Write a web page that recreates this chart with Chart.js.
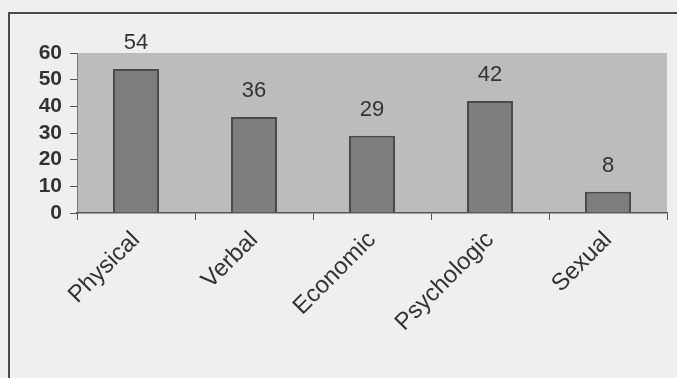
<!DOCTYPE html>
<html>
<head>
<meta charset="utf-8">
<script src="https://cdn.jsdelivr.net/npm/chart.js@4"></script>
<style>
  html, body { margin: 0; padding: 0; background: #efefef; }
  body { width: 677px; height: 378px; position: relative; overflow: hidden; }
  #frame {
    position: absolute; left: 8px; top: 12px; width: 700px; height: 400px;
    border-left: 2px solid #4a4a4a; border-top: 2px solid #4a4a4a;
    box-sizing: border-box;
  }
  #wrap { position: absolute; left: 0; top: 0; width: 677px; height: 378px; }
</style>
</head>
<body>
<div id="frame"></div>
<div id="wrap"><canvas id="chart"></canvas></div>
<script>
// Types of violence reported
const categories = ['Physical', 'Verbal', 'Economic', 'Psychologic', 'Sexual'];
const counts = [54, 36, 29, 42, 8];
const yTicks = [0, 10, 20, 30, 40, 50, 60];

const FONT = '"Liberation Sans", Arial, sans-serif';
const TEXT = '#333333';

// Grey plot-area fill behind the bars
const plotBackground = {
  id: 'plotBackground',
  beforeDraw(chart) {
    const { ctx, chartArea: a } = chart;
    ctx.save();
    ctx.fillStyle = '#bcbcbc';
    ctx.fillRect(a.left, a.top, a.right - a.left, a.bottom - a.top);
    ctx.restore();
  }
};

// Value written above each bar
const valueLabels = {
  id: 'valueLabels',
  afterDatasetsDraw(chart) {
    const { ctx } = chart;
    const meta = chart.getDatasetMeta(0);
    ctx.save();
    ctx.font = '22px ' + FONT;
    ctx.fillStyle = TEXT;
    ctx.textAlign = 'center';
    ctx.textBaseline = 'bottom';
    meta.data.forEach((bar, i) => {
      ctx.fillText(String(chart.data.datasets[0].data[i]), bar.x, bar.y - 15);
    });
    ctx.restore();
  }
};

new Chart(document.getElementById('chart'), {
  type: 'bar',
  data: {
    labels: categories,
    datasets: [{
      data: counts,
      backgroundColor: '#7e7e7e',
      borderColor: '#4a4a4a',
      borderWidth: 2,
      categoryPercentage: 1,
      barPercentage: 0.39
    }]
  },
  options: {
    responsive: true,
    maintainAspectRatio: false,
    animation: false,
    devicePixelRatio: 1,
    layout: { padding: { left: 0, top: 53, right: 10, bottom: 0 } },
    plugins: { legend: { display: false }, tooltip: { enabled: false } },
    scales: {
      y: {
        min: 0, max: 60,
        afterFit(scale) { scale.width = 77; },
        afterBuildTicks(scale) { scale.ticks = yTicks.map(v => ({ value: v })); },
        ticks: { font: { family: FONT, size: 21, weight: 'bold' }, color: TEXT, padding: 8, autoSkip: false },
        grid: { drawOnChartArea: false, drawTicks: true, tickLength: 7, color: '#555555', lineWidth: 1 },
        border: { display: true, color: '#777777', width: 1 }
      },
      x: {
        afterFit(scale) { scale.height = 165; },
        ticks: { font: { family: FONT, size: 24 }, color: TEXT, maxRotation: 45, minRotation: 45, padding: 6, autoSkip: false },
        grid: { offset: true, drawOnChartArea: false, drawTicks: true, tickLength: 7, color: '#555555', lineWidth: 1 },
        border: { display: true, color: '#555555', width: 1.5 }
      }
    }
  },
  plugins: [plotBackground, valueLabels]
});
</script>
</body>
</html>
